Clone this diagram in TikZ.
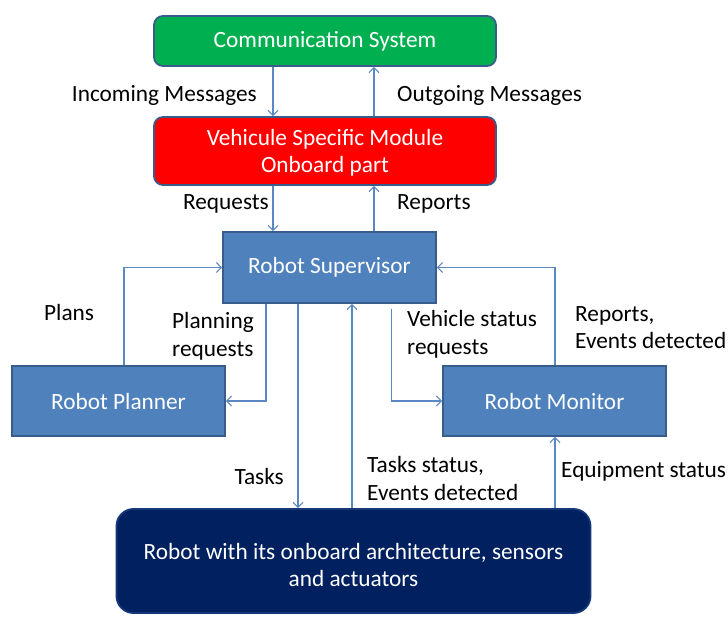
\documentclass[tikz,border=0pt]{standalone}
\usepackage{fontspec}
\setmainfont{Carlito}
\usetikzlibrary{arrows.meta,calc}
\definecolor{commgreen}{HTML}{00B050}
\definecolor{vsmred}{HTML}{FF0000}
\definecolor{modblue}{HTML}{4F81BD}
\definecolor{edgeblue}{HTML}{385D8A}
\definecolor{robnavy}{HTML}{002060}
\definecolor{linkblue}{HTML}{5A88C2}
\tikzset{
  txt/.style={font=\fontsize{23.3}{27.5}\selectfont},
  box/.style={txt, draw=edgeblue, line width=1.8pt, text=white, inner sep=0pt, align=center},
  roundbox/.style={box, rounded corners=9pt},
  boxtext/.style={txt, text=white, inner sep=0pt, align=center},
  lbl/.style={txt, text=black, inner sep=0pt, align=left},
  conn/.style={draw=linkblue, line width=1.1pt, -{Straight Barb[length=5pt,width=10pt,line width=1.1pt]}},
}
\begin{document}
\begin{tikzpicture}[x=1pt,y=-1pt]
\useasboundingbox (0,0) rectangle (728,617);

% modules
\node[roundbox, fill=commgreen, minimum width=342pt, minimum height=50pt] (comm) at (325,41) {Communication System};
\node[roundbox, fill=vsmred, minimum width=342pt, minimum height=68pt,
      label={[boxtext, yshift=-2pt]center:Vehicule Specific Module\\Onboard part}] (vsm) at (325,151) {};
\node[box, fill=modblue, minimum width=213pt, minimum height=71pt] (sup) at (329.5,267.5) {Robot Supervisor};
\node[box, fill=modblue, minimum width=213pt, minimum height=70pt] (plan) at (118.5,401) {Robot Planner};
\node[box, fill=modblue, minimum width=223pt, minimum height=70pt] (mon) at (554.5,401) {Robot Monitor};
\node[box, fill=robnavy, draw=robnavy!75!modblue, rounded corners=17pt, minimum width=474pt, minimum height=104pt,
      label={[boxtext, yshift=-4pt]center:Robot with its onboard architecture, sensors\\and actuators}] (rob) at (353.5,561) {};

% message flows
\draw[conn] ([xshift=-52pt]comm.south) -- ([xshift=-52pt]vsm.north);
\draw[conn] ([xshift=49pt]vsm.north) -- ([xshift=49pt]comm.south);
\draw[conn] ([xshift=-52pt]vsm.south) -- ([xshift=-56.5pt]sup.north);
\draw[conn] ([xshift=44.5pt]sup.north) -- ([xshift=49pt]vsm.south);
\draw[conn] ([xshift=5.5pt]plan.north) |- (sup.west);
\draw[conn] ([xshift=-63.5pt]sup.south) |- (plan.east);
\draw[conn, shorten <=5pt] ([xshift=62pt]sup.south) |- (mon.west);
\draw[conn] ([xshift=0.5pt]mon.north) |- (sup.east);
\draw[conn] ([xshift=-31.5pt]sup.south) -- ([xshift=-31.5pt]sup.south |- rob.north);
\draw[conn] ([xshift=-1.5pt]rob.north) -- ([xshift=-1.5pt]rob.north |- sup.south);
\draw[conn] ([xshift=201.5pt]rob.north) -- ([xshift=201.5pt]rob.north |- mon.south);

% flow labels
\node[lbl, anchor=east] (lin) at (257,95.5) {Incoming Messages};
\node[lbl, anchor=west] (lout) at (397,95.5) {Outgoing Messages};
\node[lbl, anchor=east] (lreq) at (269,203.5) {Requests};
\node[lbl, anchor=west] (lrep) at (397,203.5) {Reports};
\node[lbl, anchor=west] (lplans) at (44,312.5) {Plans};
\node[lbl, anchor=west] (lpreq) at (172,336.5) {Planning\\requests};
\node[lbl, anchor=west] (lvreq) at (407,334.5) {Vehicle status\\requests};
\node[lbl, anchor=west] (lrev) at (575,327.5) {Reports,\\Events detected};
\node[lbl, anchor=east] (ltasks) at (284,476.5) {Tasks};
\node[lbl, anchor=west] (ltstat) at (367,478.5) {Tasks status,\\Events detected};
\node[lbl, anchor=west] (lequip) at (561,471.5) {Equipment status};
\end{tikzpicture}
\end{document}
